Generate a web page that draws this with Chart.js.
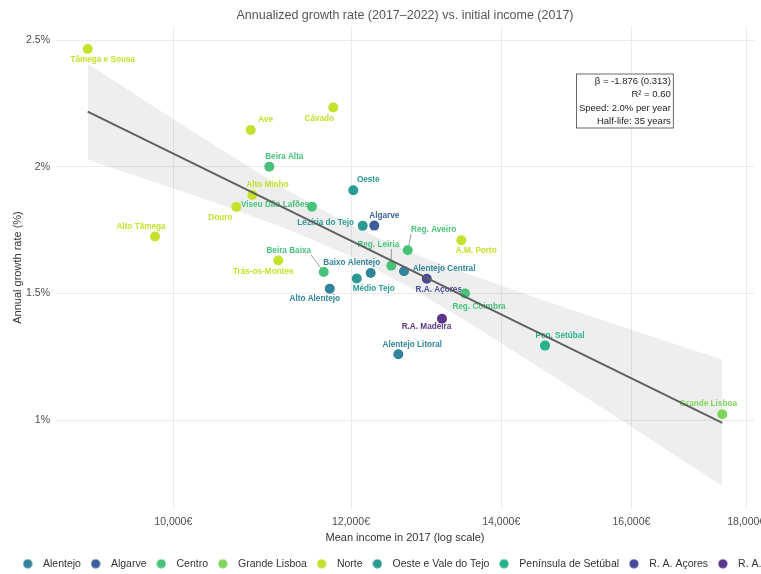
<!DOCTYPE html>
<html>
<head>
<meta charset="utf-8">
<script src="https://cdn.jsdelivr.net/npm/chart.js@4.4.1/dist/chart.umd.min.js"></script>
<style>
  html, body { margin: 0; padding: 0; background: #fff; overflow: hidden; }
  #wrap { width: 820px; height: 579px; }
</style>
</head>
<body>
<div id="wrap"><canvas id="growth" width="820" height="579"></canvas></div>
<script>
const groups = ['Alentejo', 'Algarve', 'Centro', 'Grande Lisboa', 'Norte', 'Oeste e Vale do Tejo', 'Península de Setúbal', 'R. A. Açores', 'R. A. Madeira'];
const groupColors = ['#31849b', '#3b5f9a', '#48c27a', '#7fd45c', '#c5e02d', '#2a9a92', '#27b28c', '#4a4a9a', '#5b358a'];

const regions = ['Tâmega e Sousa', 'Cávado', 'Ave', 'Beira Alta', 'Alto Minho', 'Viseu Dão Lafões', 'Douro', 'Alto Tâmega',
  'Oeste', 'Lezíria do Tejo', 'Algarve', 'Reg. Aveiro', 'A.M. Porto', 'Trás-os-Montes', 'Beira Baixa', 'Médio Tejo',
  'Baixo Alentejo', 'Reg. Leiria', 'Alentejo Central', 'R.A. Açores', 'Reg. Coimbra', 'Alto Alentejo', 'R.A. Madeira',
  'Alentejo Litoral', 'Pen. Setúbal', 'Grande Lisboa'];
const regionGroup = ['Norte', 'Norte', 'Norte', 'Centro', 'Norte', 'Centro', 'Norte', 'Norte',
  'Oeste e Vale do Tejo', 'Oeste e Vale do Tejo', 'Algarve', 'Centro', 'Norte', 'Norte', 'Centro', 'Oeste e Vale do Tejo',
  'Alentejo', 'Centro', 'Alentejo', 'R. A. Açores', 'Centro', 'Alentejo', 'R. A. Madeira',
  'Alentejo', 'Península de Setúbal', 'Grande Lisboa'];
const income2017 = [9159, 11784, 10826, 11035, 10845, 11529, 10668, 9814,
  12028, 12145, 12290, 12719, 13438, 11137, 11669, 12071,
  12245, 12507, 12671, 12970, 13489, 11741, 13174,
  12597, 14643, 17564];
const growthRate = [2.466, 2.235, 2.146, 2.001, 1.889, 1.843, 1.842, 1.725,
  1.908, 1.767, 1.768, 1.671, 1.710, 1.630, 1.585, 1.559,
  1.581, 1.610, 1.588, 1.558, 1.500, 1.519, 1.400,
  1.260, 1.294, 1.023];

// fitted line and its confidence band
const fitIncome = [9159, 17564];
const fitGrowth = [2.218, 0.989];
const bandIncome = [9159, 9800, 10500, 11200, 12000, 12800, 13600, 14600, 15600, 16600, 17564];
const bandUpper = [2.408, 2.239, 2.070, 1.916, 1.769, 1.657, 1.570, 1.475, 1.389, 1.310, 1.239];
const bandLower = [2.028, 1.941, 1.850, 1.760, 1.647, 1.515, 1.374, 1.201, 1.037, 0.881, 0.739];

const xTicks = [10000, 12000, 14000, 16000, 18000];
const yTicks = [1, 1.5, 2, 2.5];
const statLines = ['β = -1.876 (0.313)', 'R² = 0.60', 'Speed: 2.0% per year', 'Half-life: 35 years'];

// label placement (pixels from the point), third item = leader line
const labelOffsets = {
  'Tâmega e Sousa': [15, 11], 'Cávado': [-14, 11], 'Ave': [15, -10], 'Beira Alta': [15, -10],
  'Alto Minho': [15, -10.5], 'Viseu Dão Lafões': [-37, -1.5], 'Douro': [-16, 10.5], 'Alto Tâmega': [-14, -10],
  'Oeste': [15, -10], 'Lezíria do Tejo': [-37, -3], 'Algarve': [10, -10], 'Reg. Aveiro': [26, -20, true],
  'A.M. Porto': [15, 10.7], 'Trás-os-Montes': [-15, 11], 'Beira Baixa': [-35, -21, true], 'Médio Tejo': [17, 10.6],
  'Baixo Alentejo': [-19, -10], 'Reg. Leiria': [-13, -20.7, true], 'Alentejo Central': [40, -2], 'R.A. Açores': [12, 11],
  'Reg. Coimbra': [14, 13], 'Alto Alentejo': [-15, 9.6], 'R.A. Madeira': [-15.5, 8.3], 'Alentejo Litoral': [14, -9.3],
  'Pen. Setúbal': [15, -10], 'Grande Lisboa': [-14, -10]
};

const FONT = '"Liberation Sans", Arial, Helvetica, sans-serif';
Chart.defaults.font.family = FONT;

function dot(color) {
  const c = document.createElement('canvas');
  c.width = 10; c.height = 10;
  const g = c.getContext('2d');
  g.fillStyle = color;
  g.beginPath(); g.arc(5, 5, 4.6, 0, Math.PI * 2); g.fill();
  return c;
}
const legendDots = groupColors.map(dot);

const pointSets = groups.map((g, gi) => ({
  type: 'scatter',
  label: g,
  kind: 'points',
  order: 1,
  data: regions.map((name, i) => ({ x: income2017[i], y: growthRate[i], name: name, g: regionGroup[i] }))
    .filter(p => p.g === g),
  backgroundColor: groupColors[gi],
  borderWidth: 0,
  pointRadius: 5,
  pointHoverRadius: 5
}));

const bandSets = [
  {
    type: 'line', label: 'upper', order: 2,
    data: bandIncome.map((x, i) => ({ x: x, y: bandUpper[i] })),
    borderColor: 'rgba(0,0,0,0)', borderWidth: 0, pointRadius: 0, fill: false
  },
  {
    type: 'line', label: 'lower', order: 2,
    data: bandIncome.map((x, i) => ({ x: x, y: bandLower[i] })),
    borderColor: 'rgba(0,0,0,0)', borderWidth: 0, pointRadius: 0,
    fill: '-1', backgroundColor: 'rgba(0,0,0,0.065)'
  }
];

const fitSet = {
  type: 'line', label: 'fit', order: 0,
  data: fitIncome.map((x, i) => ({ x: x, y: fitGrowth[i] })),
  borderColor: '#5f5f5f', borderWidth: 2, pointRadius: 0, fill: false
};

const pointLabels = {
  id: 'pointLabels',
  afterDatasetDraw(chart, args) {
    const ds = chart.data.datasets[args.index];
    if (ds.kind !== 'points') return;
    const ctx = chart.ctx;
    ctx.save();
    ctx.font = 'bold 8.2px ' + FONT;
    ctx.textAlign = 'center';
    ctx.textBaseline = 'middle';
    args.meta.data.forEach((el, i) => {
      const name = ds.data[i].name;
      const off = labelOffsets[name] || [0, -10];
      const lx = el.x + off[0], ly = el.y + off[1];
      if (off[2]) {
        const w = ctx.measureText(name).width / 2, h = 4;
        const sx = Math.max(lx - w, Math.min(lx + w, el.x));
        const sy = Math.max(ly - h, Math.min(ly + h, el.y));
        const d = Math.hypot(el.x - sx, el.y - sy) || 1;
        ctx.strokeStyle = '#777';
        ctx.lineWidth = 0.7;
        ctx.beginPath();
        ctx.moveTo(sx, sy);
        ctx.lineTo(el.x - (el.x - sx) * 5 / d, el.y - (el.y - sy) * 5 / d);
        ctx.stroke();
      }
      ctx.fillStyle = ds.backgroundColor;
      ctx.fillText(name, lx, ly);
    });
    ctx.restore();
  }
};

const statBox = {
  id: 'statBox',
  afterDraw(chart) {
    const ctx = chart.ctx, area = chart.chartArea;
    ctx.save();
    ctx.font = '9.5px ' + FONT;
    const w = Math.max(...statLines.map(t => ctx.measureText(t).width)) + 5;
    const right = area.right - 80.7, top = area.top + 48;
    const h = 54;
    ctx.fillStyle = '#fff';
    ctx.fillRect(right - w, top, w, h);
    ctx.strokeStyle = '#444';
    ctx.lineWidth = 0.8;
    ctx.strokeRect(right - w, top, w, h);
    ctx.fillStyle = '#222';
    ctx.textAlign = 'right';
    ctx.textBaseline = 'middle';
    statLines.forEach((t, i) => ctx.fillText(t, right - 2.5, top + 7 + i * 13.6));
    ctx.restore();
  }
};

new Chart(document.getElementById('growth'), {
  type: 'scatter',
  data: { datasets: [...pointSets, ...bandSets, fitSet] },
  plugins: [pointLabels, statBox],
  options: {
    responsive: false,
    animation: false,
    events: [],
    layout: { padding: 0 },
    plugins: {
      tooltip: { enabled: false },
      title: {
        display: true,
        fullSize: false,
        text: 'Annualized growth rate (2017–2022) vs. initial income (2017)',
        color: '#555',
        font: { size: 12.5, weight: 'normal' },
        padding: { top: 8.5, bottom: 2.5 }
      },
      legend: {
        position: 'bottom',
        labels: {
          usePointStyle: true,
          pointStyleWidth: 20,
          boxHeight: 7,
          padding: 4.75,
          color: '#333',
          font: { size: 10.5 },
          generateLabels: () => groups.map((g, i) => ({
            text: g, pointStyle: legendDots[i], fillStyle: groupColors[i], strokeStyle: groupColors[i],
            fontColor: '#333', lineWidth: 0, hidden: false, datasetIndex: i
          }))
        }
      }
    },
    scales: {
      x: {
        type: 'logarithmic',
        min: 8866,
        max: 18145,
        afterBuildTicks: s => { s.ticks = xTicks.map(v => ({ value: v })); },
        afterFit: s => { s.height = 44.75; },
        ticks: {
          autoSkip: false, maxRotation: 0, padding: 7, color: '#4d4d4d', font: { size: 10.5 },
          callback: v => Number(v).toLocaleString('en-US') + '€'
        },
        grid: { color: '#ebebeb', lineWidth: 1, drawTicks: false },
        border: { display: false },
        title: {
          display: true, text: 'Mean income in 2017 (log scale)', color: '#333',
          font: { size: 11 }, padding: { top: 0, bottom: 9.5 }
        }
      },
      y: {
        type: 'linear',
        min: 0.6486,
        max: 2.5565,
        afterBuildTicks: s => { s.ticks = yTicks.map(v => ({ value: v })); },
        afterFit: s => { s.width = 56; },
        ticks: { padding: 6, color: '#4d4d4d', font: { size: 10.5 }, callback: v => v + '%' },
        grid: { color: '#ebebeb', lineWidth: 1, drawTicks: false },
        border: { display: false },
        title: {
          display: true, text: 'Annual growth rate (%)', color: '#333',
          font: { size: 11 }, padding: { top: 11.4, bottom: 0 }
        }
      },
      // empty strip that keeps the right margin of the panel
      yRight: {
        type: 'linear',
        position: 'right',
        afterFit: s => { s.width = 66; },
        ticks: { display: false },
        grid: { display: false, drawTicks: false },
        border: { display: false }
      }
    }
  }
});
</script>
</body>
</html>
